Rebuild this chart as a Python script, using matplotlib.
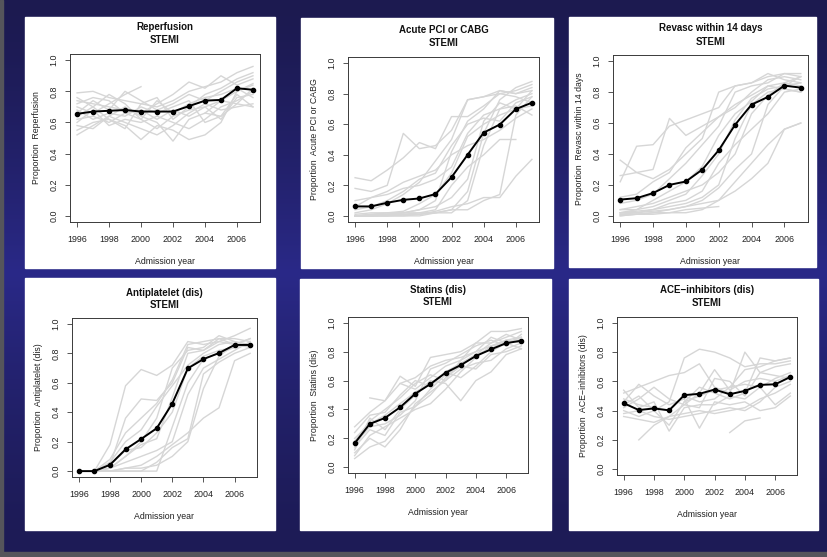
import numpy as np
import matplotlib
matplotlib.use("Agg")
import matplotlib.pyplot as plt
from matplotlib.patches import Rectangle

plt.rcParams['font.family'] = ['Liberation Sans', 'DejaVu Sans']

nan = np.nan
years = [1996, 1997, 1998, 1999, 2000, 2001, 2002, 2003, 2004, 2005, 2006, 2007]
xticks = [1996, 1998, 2000, 2002, 2004, 2006]
yticks = [0.0, 0.2, 0.4, 0.6, 0.8, 1.0]

titles = ["Reperfusion", "Acute PCI or CABG", "Revasc within 14 days",
          "Antiplatelet (dis)", "Statins (dis)", "ACE\u2212inhibitors (dis)"]
ylabels = ["Proportion  Reperfusion", "Proportion  Acute PCI or CABG",
           "Proportion  Revasc within 14 days", "Proportion  Antiplatelet (dis)",
           "Proportion  Statins (dis)", "Proportion  ACE\u2212inhibitors (dis)"]

# overall (black) series
reperfusion = [0.655, 0.67, 0.675, 0.68, 0.67, 0.67, 0.67, 0.705, 0.74, 0.745, 0.82, 0.81]
acute_pci = [0.062, 0.062, 0.086, 0.105, 0.114, 0.143, 0.253, 0.40, 0.545, 0.598, 0.699, 0.741]
revasc = [0.105, 0.114, 0.147, 0.20, 0.222, 0.299, 0.424, 0.589, 0.719, 0.769, 0.842, 0.829]
antiplatelet = [0.0, 0.0, 0.043, 0.148, 0.218, 0.291, 0.459, 0.698, 0.761, 0.802, 0.857, 0.857]
statins = [0.166, 0.30, 0.341, 0.415, 0.509, 0.576, 0.654, 0.707, 0.77, 0.816, 0.859, 0.876]
ace = [0.451, 0.404, 0.415, 0.402, 0.506, 0.515, 0.544, 0.512, 0.535, 0.576, 0.58, 0.63]

# hospital-level (grey) series
reperfusion_hosp = [
    [0.79, 0.80, 0.76, 0.74, 0.72, 0.70, 0.74, 0.80, 0.83, 0.86, 0.92, 0.96],
    [0.55, 0.60, 0.62, 0.58, 0.49, 0.58, 0.55, 0.49, 0.52, 0.60, 0.80, 0.85],
    [0.70, 0.66, 0.72, 0.78, 0.83, nan, nan, nan, nan, nan, nan, nan],
    [0.62, 0.64, 0.60, 0.66, 0.62, 0.56, 0.64, 0.68, 0.70, 0.62, 0.76, 0.78],
    [0.74, 0.72, 0.70, 0.68, 0.66, 0.72, 0.78, 0.86, 0.82, 0.90, 0.84, 0.88],
    [0.52, 0.58, 0.64, 0.70, 0.64, 0.60, 0.48, 0.62, 0.66, 0.64, 0.78, 0.70],
    [0.68, 0.62, 0.66, 0.64, 0.70, 0.66, 0.70, 0.74, 0.60, 0.64, 0.72, 0.82],
    [0.76, 0.70, 0.78, 0.72, 0.62, 0.74, 0.66, 0.72, 0.76, 0.78, 0.82, 0.76],
    [0.60, 0.68, 0.58, 0.62, 0.60, 0.64, 0.60, 0.56, 0.62, 0.70, 0.74, 0.80],
    [0.66, 0.74, 0.68, 0.80, 0.74, 0.68, 0.72, 0.78, 0.74, 0.80, 0.86, 0.90],
    [0.58, 0.56, 0.64, 0.60, 0.56, 0.52, 0.58, 0.66, 0.72, 0.68, 0.70, 0.72],
    [0.72, 0.76, 0.74, 0.66, 0.68, 0.62, 0.68, 0.64, 0.70, 0.74, 0.80, 0.84],
    [nan, nan, nan, nan, nan, nan, nan, nan, 0.66, 0.74, 0.72, 0.70],
    [0.64, 0.70, 0.62, 0.56, 0.72, 0.76, 0.62, 0.70, 0.78, 0.82, 0.88, 0.92],
]
acute_pci_hosp = [
    [0.25, 0.23, 0.30, 0.38, 0.48, 0.44, 0.65, 0.65, 0.72, 0.80, 0.82, 0.86],
    [0.18, 0.16, 0.20, 0.54, 0.44, 0.46, 0.56, 0.76, 0.78, 0.80, 0.78, 0.74],
    [0.00, 0.01, 0.02, 0.02, 0.04, 0.10, 0.42, 0.62, 0.70, 0.82, 0.80, 0.84],
    [0.00, 0.00, 0.01, 0.01, 0.02, 0.02, 0.04, 0.16, 0.54, 0.76, 0.84, 0.88],
    [0.00, 0.00, 0.00, 0.00, 0.01, 0.03, 0.06, 0.08, 0.12, 0.12, 0.26, 0.37],
    [0.06, 0.12, 0.16, 0.22, 0.26, 0.30, 0.40, 0.46, 0.50, 0.56, 0.64, 0.70],
    [0.00, 0.00, 0.00, 0.01, 0.01, 0.02, 0.02, 0.10, 0.46, 0.70, 0.76, 0.80],
    [0.02, 0.04, 0.08, 0.14, 0.22, 0.36, 0.50, 0.76, 0.78, 0.82, 0.80, 0.82],
    [0.00, 0.01, 0.01, 0.02, 0.02, 0.04, 0.20, 0.32, 0.40, 0.50, 0.50, nan],
    [0.00, 0.00, 0.00, 0.00, 0.00, 0.02, 0.04, 0.04, 0.10, 0.14, 0.66, 0.78],
    [0.10, 0.12, 0.14, 0.18, 0.20, 0.24, 0.32, 0.54, 0.66, 0.70, 0.72, 0.66],
    [0.00, 0.00, 0.01, 0.02, 0.04, 0.06, 0.12, 0.24, 0.62, 0.74, 0.70, 0.82],
    [0.04, 0.06, 0.10, 0.16, 0.24, 0.28, 0.46, 0.60, 0.64, 0.62, 0.74, 0.78],
    [0.01, 0.02, 0.02, 0.03, 0.08, 0.14, 0.28, 0.52, 0.60, 0.66, 0.70, 0.72],
]
revasc_hosp = [
    [0.22, 0.45, 0.46, 0.58, 0.62, 0.66, 0.70, 0.84, 0.86, 0.90, 0.92, 0.92],
    [0.36, 0.28, 0.30, 0.63, 0.52, 0.58, 0.64, 0.70, 0.80, 0.88, 0.90, 0.88],
    [0.26, 0.28, 0.24, 0.30, 0.40, 0.50, 0.80, 0.84, 0.86, 0.92, 0.88, 0.86],
    [0.02, 0.02, 0.03, 0.04, 0.06, 0.08, 0.10, 0.22, 0.34, 0.46, 0.56, 0.60],
    [0.04, 0.06, 0.08, 0.12, 0.16, 0.20, 0.28, 0.40, 0.66, 0.78, 0.86, 0.90],
    [0.01, 0.01, 0.02, 0.04, 0.06, 0.10, 0.18, 0.30, 0.40, 0.72, 0.84, 0.86],
    [0.08, 0.10, 0.14, 0.24, 0.34, 0.46, 0.58, 0.80, 0.84, 0.86, 0.92, 0.90],
    [0.02, 0.03, 0.04, 0.06, 0.08, 0.12, 0.20, 0.50, 0.72, 0.80, 0.82, 0.80],
    [0.00, 0.01, 0.02, 0.02, 0.04, 0.05, 0.06, nan, nan, nan, nan, nan],
    [0.12, 0.14, 0.22, 0.28, 0.44, 0.54, 0.64, 0.72, 0.78, 0.84, 0.86, 0.84],
    [0.04, 0.04, 0.06, 0.10, 0.14, 0.26, 0.40, 0.62, 0.76, 0.82, 0.84, 0.90],
    [0.01, 0.02, 0.04, 0.08, 0.10, 0.16, 0.34, 0.46, 0.56, 0.66, 0.80, 0.82],
    [0.02, 0.04, 0.10, 0.16, 0.22, 0.32, 0.52, 0.66, 0.74, 0.84, 0.82, 0.80],
    [0.00, 0.01, 0.01, 0.02, 0.02, 0.04, 0.10, 0.16, 0.24, 0.34, 0.56, 0.60],
]
antiplatelet_hosp = [
    [nan, 0.00, 0.18, 0.58, 0.69, 0.65, 0.72, 0.88, 0.86, 0.88, 0.92, 0.97],
    [nan, 0.00, 0.04, 0.36, 0.49, 0.48, 0.60, 0.84, 0.82, 0.90, 0.90, 0.88],
    [nan, 0.00, 0.02, 0.10, 0.20, 0.36, 0.70, 0.82, 0.84, 0.92, 0.88, 0.86],
    [nan, 0.00, 0.00, 0.02, 0.04, 0.10, 0.18, 0.26, 0.36, 0.43, 0.75, 0.80],
    [nan, 0.00, 0.00, 0.00, 0.00, 0.00, 0.30, 0.60, 0.76, 0.80, 0.84, 0.86],
    [nan, 0.00, 0.06, 0.20, 0.28, 0.44, 0.58, 0.72, 0.80, 0.86, 0.88, 0.84],
    [nan, 0.00, 0.02, 0.06, 0.10, 0.14, 0.20, 0.52, 0.70, 0.76, 0.82, 0.88],
    [nan, 0.00, 0.00, 0.02, 0.02, 0.04, 0.10, 0.20, 0.56, 0.78, 0.86, 0.90],
    [nan, 0.00, 0.08, 0.26, 0.36, 0.46, 0.62, 0.86, 0.88, 0.90, 0.86, 0.84],
    [nan, 0.00, 0.04, 0.14, 0.16, 0.26, 0.40, 0.70, 0.78, 0.82, 0.84, 0.86],
    [nan, 0.00, 0.00, 0.00, 0.00, 0.06, 0.16, 0.22, 0.66, 0.74, 0.80, 0.84],
    [nan, 0.00, 0.02, 0.10, 0.18, 0.22, 0.50, 0.80, 0.82, 0.88, 0.86, 0.90],
]
statins_hosp = [
    [0.28, 0.38, 0.46, 0.63, 0.56, 0.76, 0.78, 0.80, 0.86, 0.94, 0.94, 0.96],
    [0.06, 0.14, 0.18, 0.30, 0.42, 0.50, 0.62, 0.70, 0.78, 0.82, 0.88, 0.90],
    [0.12, 0.34, 0.26, 0.40, 0.50, 0.60, 0.58, 0.46, 0.60, 0.66, 0.78, 0.82],
    [nan, 0.48, 0.46, 0.58, 0.54, 0.62, 0.70, 0.74, 0.80, 0.90, 0.86, 0.90],
    [0.20, 0.30, 0.36, 0.44, 0.52, 0.58, 0.66, 0.72, 0.78, 0.86, 0.92, 0.88],
    [0.10, 0.20, 0.14, 0.26, 0.44, 0.52, 0.60, 0.68, 0.72, 0.74, 0.82, 0.86],
    [0.16, 0.28, 0.30, 0.36, 0.46, 0.68, 0.72, 0.78, 0.84, 0.88, 0.84, 0.92],
    [0.24, 0.36, 0.38, 0.50, 0.60, 0.56, 0.66, 0.62, 0.70, 0.80, 0.86, 0.82],
    [0.08, 0.22, 0.28, 0.34, 0.40, 0.44, 0.54, 0.66, 0.76, 0.84, 0.88, 0.86],
    [0.18, 0.32, 0.40, 0.48, 0.58, 0.64, 0.60, 0.74, 0.86, 0.86, 0.90, 0.94],
    [0.14, 0.26, 0.22, 0.38, 0.42, 0.54, 0.64, 0.70, 0.68, 0.78, 0.80, 0.84],
    [nan, nan, nan, 0.58, 0.62, 0.70, 0.74, 0.76, 0.80, 0.84, 0.86, 0.88],
]
ace_hosp = [
    [0.52, 0.56, 0.60, 0.64, 0.66, 0.72, 0.56, 0.52, 0.80, 0.66, 0.70, 0.72],
    [0.40, 0.36, 0.40, 0.46, 0.76, 0.82, 0.80, 0.76, 0.70, 0.72, 0.72, 0.74],
    [nan, 0.20, 0.30, 0.36, 0.44, 0.42, 0.62, 0.60, 0.50, 0.66, 0.64, 0.62],
    [nan, nan, nan, nan, nan, nan, nan, 0.25, 0.33, 0.35, nan, nan],
    [0.36, 0.34, 0.32, 0.36, 0.38, 0.40, 0.38, 0.40, 0.42, 0.48, 0.52, 0.58],
    [0.46, 0.58, 0.50, 0.44, 0.48, 0.28, 0.46, 0.44, 0.46, 0.40, 0.42, 0.50],
    [0.42, 0.48, 0.56, 0.48, 0.44, 0.52, 0.68, 0.54, 0.60, 0.62, 0.60, 0.64],
    [0.38, 0.40, 0.36, 0.34, 0.36, 0.38, 0.40, 0.42, 0.40, 0.46, 0.56, 0.60],
    [0.48, 0.44, 0.42, 0.40, 0.50, 0.46, 0.48, 0.56, 0.58, 0.56, 0.62, 0.66],
    [0.44, 0.50, 0.40, 0.30, 0.46, 0.56, 0.52, 0.48, 0.52, 0.76, 0.74, 0.76],
    [0.54, 0.42, 0.46, 0.26, 0.42, 0.44, 0.44, 0.50, 0.48, 0.56, 0.44, 0.52],
    [nan, nan, nan, nan, 0.46, 0.50, 0.54, 0.56, 0.68, 0.70, 0.74, 0.76],
]

overall = [reperfusion, acute_pci, revasc, antiplatelet, statins, ace]
hospitals = [reperfusion_hosp, acute_pci_hosp, revasc_hosp,
             antiplatelet_hosp, statins_hosp, ace_hosp]

W, H = 827, 557
fig = plt.figure(figsize=(W / 100, H / 100), dpi=100)

# background gradient
bg = fig.add_axes([0, 0, 1, 1], zorder=-10)
bg.set_axis_off()
top_c = np.array([0x1c, 0x1a, 0x50]) / 255
mid_c = np.array([0x2a, 0x29, 0x88]) / 255
bot_c = np.array([0x1d, 0x1b, 0x56]) / 255
t = np.linspace(0, 1, H)[:, None]
wmid = np.clip(1 - np.abs(t - 0.49) / 0.49, 0, 1) ** 1.4
base = np.where(t < 0.49, top_c, bot_c)
grad = base * (1 - wmid) + mid_c * wmid
img = np.repeat(grad[:, None, :], 2, axis=1)
bg.imshow(img, aspect='auto', extent=[0, 1, 0, 1], origin='upper')
bg.set_xlim(0, 1)
bg.set_ylim(0, 1)


def px(x0, y0, x1, y1):
    return [x0 / W, 1 - y1 / H, (x1 - x0) / W, (y1 - y0) / H]


# grey strips at edges
bg.add_patch(Rectangle((0, 0), 3 / W, 1, color='#55555b', transform=bg.transAxes, zorder=2))
bg.add_patch(Rectangle((0, 0), 1, 5 / H, color='#55555b', transform=bg.transAxes, zorder=2))

panels = [(25, 17, 275, 268), (301, 18, 553, 268), (569, 17, 816, 267),
          (25, 278, 275, 530), (300, 279, 551, 530), (569, 279, 818, 530)]
for (x0, y0, x1, y1) in panels:
    b = px(x0, y0, x1, y1)
    bg.add_patch(Rectangle((b[0], b[1]), b[2], b[3], color='white',
                           transform=bg.transAxes, zorder=3))

axes_px = [(70, 54, 260, 222), (348, 57, 539, 222), (613, 55, 808, 222),
           (72, 318, 257, 477), (348, 317, 528, 473), (617, 317, 797, 475)]
title_y = [(27, 40), (30, 43), (28, 42), (293, 305), (290, 302), (290, 303)]

frame_c = '#3a3a3a'
for i in range(6):
    ax = fig.add_axes(px(*axes_px[i]))
    ax.set_facecolor('white')
    for hosp in hospitals[i]:
        ax.plot(years, hosp, color='#d6d6d6', lw=1.0, zorder=1)
    ax.plot(years, overall[i], color='black', lw=1.4, marker='o', ms=3.0, zorder=3)
    ax.set_xlim(1995.56, 2007.44)
    ax.set_ylim(-0.04, 1.04)
    ax.set_xticks(xticks)
    ax.set_yticks(yticks)
    ax.set_xticklabels([str(v) for v in xticks])
    ax.set_yticklabels([f"{v:.1f}" for v in yticks], rotation=90, va='center')
    ax.tick_params(length=3.5, width=0.6, color=frame_c, labelsize=6.4,
                   labelcolor='#222222')
    ax.tick_params(axis='x', pad=6.0)
    ax.tick_params(axis='y', pad=5.0)
    for s in ax.spines.values():
        s.set_color(frame_c)
        s.set_linewidth(0.7)
    ax.set_xlabel("Admission year", fontsize=6.3, color='#222222', labelpad=9)
    ax.set_ylabel(ylabels[i], fontsize=6.3, color='#222222', labelpad=6)
    xc = (axes_px[i][0] + axes_px[i][2]) / 2 / W
    fig.text(xc, 1 - title_y[i][0] / H, titles[i], ha='center', va='center',
             fontsize=7.0, fontweight='bold', color='#111111')
    fig.text(xc, 1 - title_y[i][1] / H, "STEMI", ha='center', va='center',
             fontsize=7.0, fontweight='bold', color='#111111')

fig.savefig("out.png", dpi=100)
